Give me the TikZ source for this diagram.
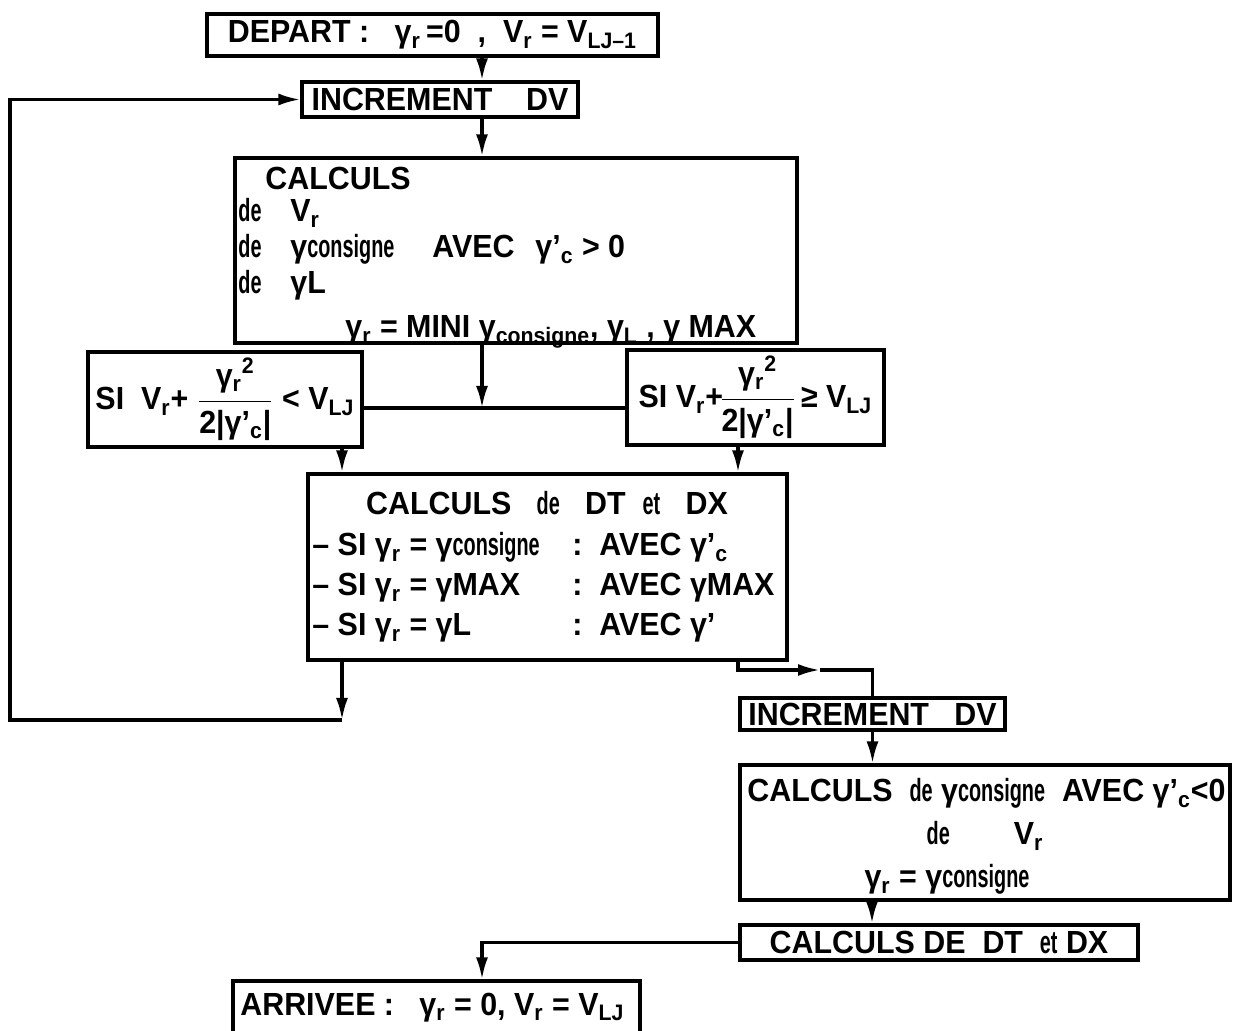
\documentclass[tikz,border=0pt]{standalone}
\usepackage{amsmath}
\usepackage{fontspec}
\setmainfont{Liberation Sans}[FakeStretch=0.95]
\newfontfamily\cnd{Liberation Sans}[FakeStretch=0.62]
\usetikzlibrary{arrows.meta}
\newcommand\g{γ}
\newcommand\gr{γ\textsubscript{r}}
\newcommand\cns{{\cnd consigne}}
\newcommand\dee{{\cnd de}}
\begin{document}
\begin{tikzpicture}[x=0.5pt,y=-0.5pt,
  every node/.style={font=\fontsize{16}{19}\selectfont\bfseries},
  box/.style={draw, line width=1.6pt, inner sep=0pt},
  conn/.style={line width=1.6pt},
  arr/.style={conn, -{Latex[length=11pt,width=6pt]}},
  txt/.style={anchor=base west, inner sep=0pt}]
\useasboundingbox (0,0) rectangle (1238,1031);
% helper coordinates
\coordinate (x482) at (482,0);
\coordinate (xa) at (342,0);
\coordinate (xb) at (738,0);
\coordinate (xc) at (872,0);
\coordinate (jn) at (482,408);
\coordinate (lp) at (342,720);
\coordinate (lc) at (10,720);
\coordinate (rp) at (820,670);
% boxes
\node[box, minimum width=225.5pt, minimum height=21pt] (dep) at (432.5,35)
  {DEPART :~~~\gr\,=0~~,~~V\textsubscript{r} =~V\textsubscript{LJ--1}};
\node[box, minimum width=138pt, minimum height=17.5pt] (inc1) at (440,99.5)
  {INCREMENT~~~~DV};
\node[box, minimum width=281pt, minimum height=92.5pt] (calc) at (516,250.5) {};
\node[box, minimum width=137pt, minimum height=47.5pt] (lsi) at (225,399.5)
  {SI~~V\textsubscript{r}+ $\dfrac{\text{\gr\textsuperscript{2}}}{\text{2|\g'\textsubscript{c}|}}$ < V\textsubscript{LJ}};
\node[box, minimum width=128.5pt, minimum height=47.5pt] (rsi) at (755.5,397.5)
  {SI V\textsubscript{r}+\kern-2pt$\dfrac{\text{\gr\textsuperscript{2}}}{\text{2|\g'\textsubscript{c}|}}$\kern2.5pt≥ V\textsubscript{LJ}};
\node[box, minimum width=239.5pt, minimum height=93pt] (mid) at (547.5,567) {};
\node[box, minimum width=132.5pt, minimum height=16pt] (inc2) at (872.5,714)
  {INCREMENT~~~DV};
\node[box, minimum width=245pt, minimum height=67.5pt] (calc2) at (985,832.5) {};
\node[box, minimum width=199pt, minimum height=17.5pt] (calc3) at (939,942.5)
  {CALCULS DE~~DT~~{\cnd et} DX};
\node[box, minimum width=203.5pt, minimum height=30pt] (arrv) at (436.5,1011) {};
% texts in calc
\node[txt] (t1) at (265,190) {CALCULS};
\node[txt] (t2) at (238,222) {\dee};
\node[txt] (t3) at (290,222) {V\textsubscript{r}};
\node[txt] (t4) at (238,258) {\dee};
\node[txt] (t5) at (290,258) {\g\cns};
\node[txt] (t6) at (432,258) {AVEC};
\node[txt] (t7) at (535,258) {\g'\textsubscript{c} > 0};
\node[txt] (t8) at (238,294) {\dee};
\node[txt] (t9) at (290,294) {\g L};
\node[txt] (t10) at (345,338) {\gr{} = MINI \g\textsubscript{consigne}, \g\textsubscript{L} , \g~MAX};
% texts in mid
\node[anchor=base, inner sep=0pt] (m0) at (547,515) {CALCULS~~~\dee~~~DT~~{\cnd et}~~~DX};
\node[txt] (m1) at (312,556) {– SI \gr{} = \g\cns};
\node[txt] (m2) at (572,556) {:~~AVEC \g'\textsubscript{c}};
\node[txt] (m3) at (312,596) {– SI \gr{} = \g MAX};
\node[txt] (m4) at (572,596) {:~~AVEC \g MAX};
\node[txt] (m5) at (312,636) {– SI \gr{} = \g L};
\node[txt] (m6) at (572,636) {:~~AVEC \g'};
% texts in calc2
\node[txt] (c1) at (747,802) {CALCULS~~\dee{} \g\cns~~AVEC \g'\textsubscript{c}<0};
\node[anchor=base, inner sep=0pt] (c2) at (985,845) {\dee\qquad V\textsubscript{r}};
\node[anchor=base, inner sep=0pt] (c3) at (947,888) {\gr{} = \g\cns};
% arrivee text
\node[txt] (a1) at (240,1015) {ARRIVEE :~~~\gr{} = 0, V\textsubscript{r} = V\textsubscript{LJ}};
% connectors
\draw[arr] (dep.south -| x482) -- (inc1.north -| x482);
\draw[arr] (inc1.south -| x482) -- (calc.north -| x482);
\draw[arr] (calc.south -| x482) -- (jn);
\draw[conn] (lsi.east |- jn) -- (rsi.west |- jn);
\draw[arr] (lsi.south -| xa) -- (mid.north -| xa);
\draw[arr] (rsi.south -| xb) -- (mid.north -| xb);
\draw[arr] (mid.south -| xa) -- (lp);
\draw[arr] (lp) -- (lc) |- (inc1.west);
\draw[arr] (mid.south -| xb) |- (rp);
\draw[conn] (rp) -| (inc2.north);
\draw[arr] (inc2.south) -- (inc2.south |- calc2.north);
\draw[arr] (calc2.south -| xc) -- (calc3.north -| xc);
\draw[arr] (calc3.west) -| (x482 |- arrv.north);
\end{tikzpicture}
\end{document}
